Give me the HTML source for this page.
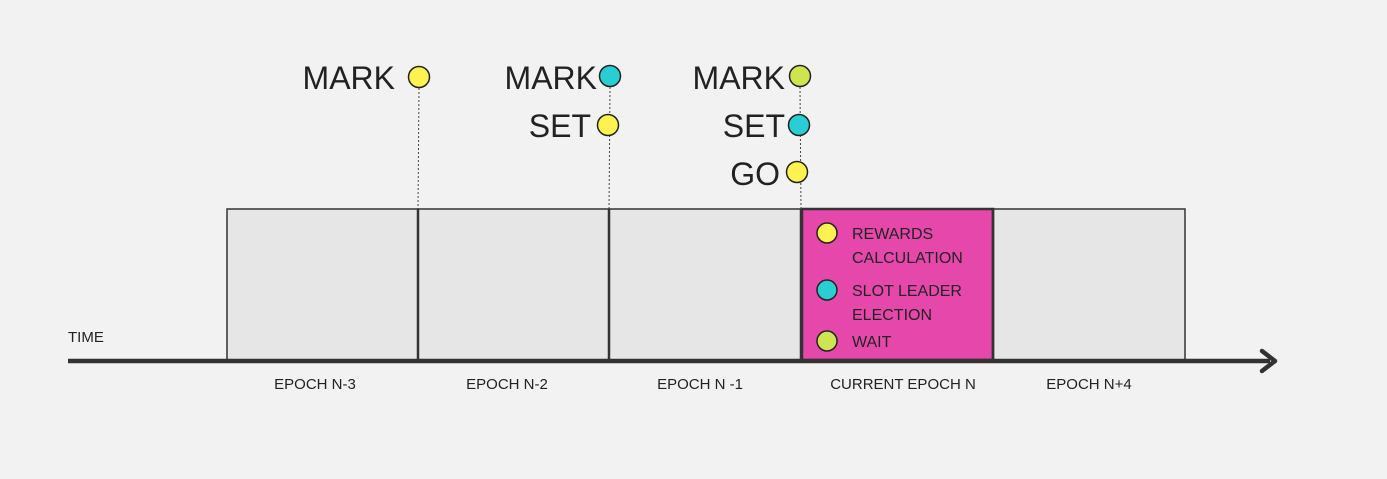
<!DOCTYPE html>
<html><head><style>body{margin:0;background:#f2f2f2}</style></head><body>
<svg width="1387" height="474" xmlns="http://www.w3.org/2000/svg" font-family="Liberation Sans, sans-serif">
<rect width="1387" height="474" fill="#f2f2f2"/>
<g stroke="#333" stroke-width="1.5">
<rect x="227" y="209" width="191" height="151" fill="#e6e6e6"/>
<rect x="418" y="209" width="191" height="151" fill="#e6e6e6"/>
<rect x="609" y="209" width="192" height="151" fill="#e6e6e6"/>
<rect x="993" y="209" width="192" height="151" fill="#e6e6e6"/>
<rect x="802" y="209" width="191" height="151" fill="#e548aa" stroke-width="2.5"/>
</g>
<g stroke="#333" stroke-width="2.5"><line x1="418" y1="209" x2="418" y2="360"/><line x1="609" y1="209" x2="609" y2="360"/><line x1="801" y1="209" x2="801" y2="360"/><line x1="993" y1="209" x2="993" y2="360"/></g>
<g stroke="#444" stroke-width="1" stroke-dasharray="2,2">
<line x1="419" y1="88" x2="418" y2="209"/><line x1="610" y1="87" x2="609" y2="209"/><line x1="800" y1="87" x2="801" y2="209"/>
</g>
<line x1="68" y1="361" x2="1270" y2="361" stroke="#333" stroke-width="4.5"/>
<polyline points="1262,351 1275,361 1262,371" fill="none" stroke="#333" stroke-width="4.5" stroke-linecap="round" stroke-linejoin="round"/>
<g stroke="#222" stroke-width="1.5">
<circle cx="419" cy="77" r="10.5" fill="#fef250"/>
<circle cx="610" cy="76" r="10.5" fill="#2bcdd5"/>
<circle cx="608" cy="125" r="10.5" fill="#fef250"/>
<circle cx="800" cy="76" r="10.5" fill="#cee551"/>
<circle cx="799" cy="125" r="10.5" fill="#2bcdd5"/>
<circle cx="797" cy="172" r="10.5" fill="#fef250"/>
<circle cx="827" cy="233" r="10" fill="#fef250"/>
<circle cx="827" cy="290" r="10" fill="#2bcdd5"/>
<circle cx="827" cy="341" r="10" fill="#cee551"/>
</g>
<g font-size="32" fill="#222" text-anchor="end">
<text x="395" y="89">MARK</text><text x="597" y="89">MARK</text><text x="591" y="137">SET</text>
<text x="785" y="89">MARK</text><text x="785" y="137">SET</text><text x="780" y="185">GO</text>
</g>
<g font-size="16" fill="#222">
<text x="852" y="239">REWARDS</text><text x="852" y="263">CALCULATION</text>
<text x="852" y="296">SLOT LEADER</text><text x="852" y="320">ELECTION</text>
<text x="852" y="347">WAIT</text>
<text x="68" y="342" font-size="15">TIME</text>
</g>
<g font-size="15" fill="#222" text-anchor="middle">
<text x="315" y="389">EPOCH N-3</text><text x="507" y="389">EPOCH N-2</text><text x="700" y="389">EPOCH N -1</text>
<text x="903" y="389">CURRENT EPOCH N</text><text x="1089" y="389">EPOCH N+4</text>
</g>
</svg>
</body></html>
